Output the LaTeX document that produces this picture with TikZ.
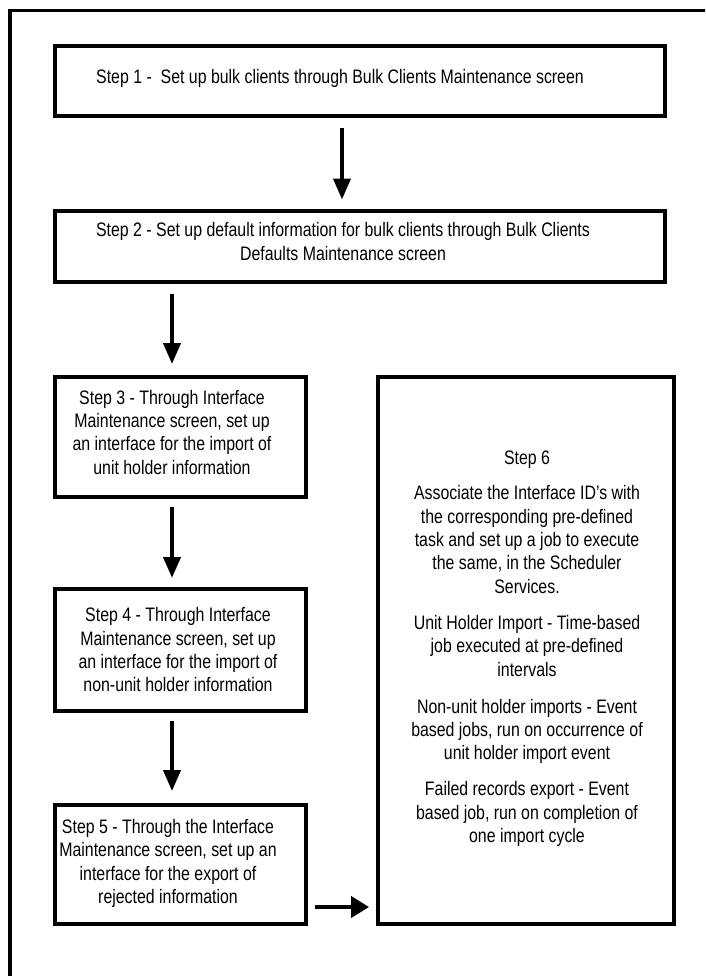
\documentclass[tikz,border=0pt]{standalone}
\usepackage{fontspec}
\setmainfont[FakeStretch=0.815]{Liberation Sans}
\usetikzlibrary{arrows.meta}
\begin{document}
\begin{tikzpicture}[x=1pt,y=-1pt,
  box/.style={draw, line width=4pt, rectangle, inner sep=0pt, outer sep=0pt},
  txt/.style={font=\fontsize{19.5}{23.4}\selectfont, align=center, inner sep=0pt},
  arr/.style={line width=4pt, -{Triangle[length=21pt,width=17pt]}},
  harr/.style={line width=4pt, -{Triangle[length=18pt,width=21pt]}}]
\useasboundingbox (0,0) rectangle (705,976);
\clip (0,0) rectangle (705,976);
\fill[white] (0,0) rectangle (705,976);
% outer frame (cropped)
\draw[line width=3.5pt] (10,990) -- (10,10.5) -- (720,10.5);
% boxes
\node[box, minimum width=610pt, minimum height=70.3pt] (s1) at (360,81.2) {};
\node[box, minimum width=610pt, minimum height=71.3pt] (s2) at (360,246.7) {};
\node[box, minimum width=251pt, minimum height=119.4pt] (s3) at (180.5,437) {};
\node[box, minimum width=251.3pt, minimum height=121.4pt] (s4) at (180.6,650) {};
\node[box, minimum width=251pt, minimum height=119.3pt] (s5) at (180.5,864.4) {};
\node[box, minimum width=295.7pt, minimum height=546.7pt] (s6) at (526.2,650.7) {};
% texts (anchor = baseline of the last line)
\node[txt, anchor=base west] (t1) at (96,84) {Step 1 -\ \ Set up bulk clients through Bulk Clients Maintenance screen};
\node[txt, anchor=base] (t2) at (343,260.4) {Step 2 - Set up default information for bulk clients through Bulk Clients\\Defaults Maintenance screen};
\node[txt, anchor=base] (t3) at (172,474.2) {Step 3 - Through Interface\\Maintenance screen, set up\\an interface for the import of\\unit holder information};
\node[txt, anchor=base] (t4) at (178,691.9) {Step 4 - Through Interface\\Maintenance screen, set up\\an interface for the import of\\non-unit holder information};
\node[txt, anchor=base] (t5) at (168,903.5) {Step 5 - Through the Interface\\Maintenance screen, set up an\\interface for the export of\\rejected information};
\node[txt, anchor=base] (t6) at (527,842.7) {Step 6\\[11.9pt]
Associate the Interface ID's with\\the corresponding pre-defined\\task and set up a job to execute\\the same, in the Scheduler\\Services.\\[12.9pt]
Unit Holder Import - Time-based\\job executed at pre-defined\\intervals\\[13.4pt]
Non-unit holder imports - Event\\based jobs, run on occurrence of\\unit holder import event\\[12.6pt]
Failed records export - Event\\based job, run on completion of\\one import cycle};
% arrows
\coordinate (ax1) at (342,0);
\coordinate (ax2) at (172,0);
\coordinate (ay5) at (0,907);
\draw[arr, shorten <=11.7pt, shorten >=11.5pt] (s1.south -| ax1) -- (s2.north -| ax1);
\draw[arr, shorten <=11.7pt, shorten >=13.3pt] (s2.south -| ax2) -- (s3.north -| ax2);
\draw[arr, shorten <=10.3pt, shorten >=11.3pt] (s3.south -| ax2) -- (s4.north -| ax2);
\draw[arr, shorten <=10.3pt, shorten >=13.7pt] (s4.south -| ax2) -- (s5.north -| ax2);
\draw[harr, shorten <=9pt, shorten >=9.3pt] (s5.east |- ay5) -- (s6.west |- ay5);
\end{tikzpicture}
\end{document}
